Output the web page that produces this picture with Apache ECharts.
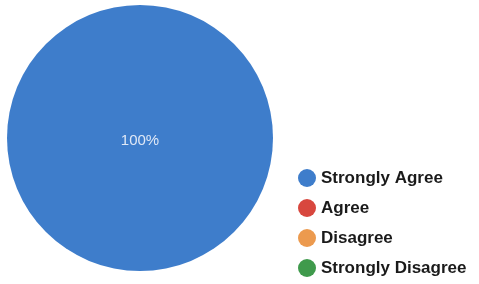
<!DOCTYPE html>
<html><head><meta charset="utf-8">
<script src="https://cdn.jsdelivr.net/npm/echarts@6/dist/echarts.min.js"></script>
<style>html,body{margin:0;padding:0;background:#fff}#c{width:479px;height:284px}</style>
</head><body><div id="c"></div>
<script>
const categories = ["Strongly Agree", "Agree", "Disagree", "Strongly Disagree"];
const values = [100, 0, 0, 0];
const colors = ["#3E7DCB", "#D8473E", "#EC9A4E", "#3F9A4C"];

const chart = echarts.init(document.getElementById('c'));
chart.setOption({
  animation: false,
  color: colors,
  legend: {
    orient: 'vertical',
    left: 293,
    top: 164,
    height: 200,
    icon: 'circle',
    itemWidth: 18,
    itemHeight: 18,
    itemGap: 12,
    textStyle: { fontFamily: 'Liberation Sans, Arial', fontSize: 17, fontWeight: 'bold', color: '#1a1a1a' },
    data: categories
  },
  series: [{
    type: 'pie',
    center: [140, 138],
    radius: 133,
    data: categories.map((n, i) => ({ name: n, value: values[i] })),
    label: {
      position: 'center',
      offset: [0, 3],
      color: '#dfe8f6',
      fontFamily: 'Liberation Sans, Arial',
      fontSize: 15,
      formatter: p => p.value > 0 ? p.percent + '%' : ''
    },
    labelLine: { show: false },
    itemStyle: { borderWidth: 0 }
  }]
});
</script></body></html>
